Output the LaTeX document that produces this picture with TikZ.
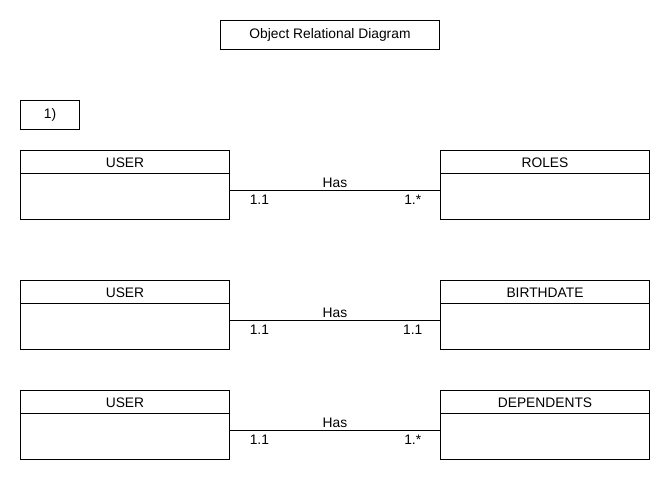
\documentclass[tikz,border=0pt]{standalone}
\usepackage{fontspec}
\setmainfont{Liberation Sans}
\usetikzlibrary{calc}
\begin{document}
\begin{tikzpicture}[x=1pt,y=-1pt,
  every node/.style={font=\fontsize{13.8}{15}\selectfont},
  box/.style={draw,line width=1pt,inner sep=0pt,anchor=north west},
  cls/.style={box,minimum width=209,minimum height=69},
  link/.style={draw,line width=1pt},
  lbl/.style={inner sep=2pt},
  mult/.style={lbl,below,yshift=-2.5pt}]
\useasboundingbox (0,0) rectangle (670,480);
\node[box,minimum width=219,minimum height=29] (title) at (220,20) {Object Relational Diagram};
\node[box,minimum width=59,minimum height=29] (num) at (20,100) {1)};
\foreach \n/\y/\t in {1/150/ROLES,2/280/BIRTHDATE,3/390/DEPENDENTS}{
  \node[cls] (u\n) at (20,\y) {};
  \node[cls] (r\n) at (440,\y) {};
  \draw[line width=1pt] ([yshift=-23]u\n.north west) -- ([yshift=-23]u\n.north east);
  \draw[line width=1pt] ([yshift=-23]r\n.north west) -- ([yshift=-23]r\n.north east);
  \node at ($(u\n.north)+(0,12.5)$) {USER};
  \node at ($(r\n.north)+(0,12.5)$) {\t};
  \coordinate (a\n) at ([yshift=-40]u\n.north east);
  \coordinate (b\n) at ([yshift=-40]r\n.north west);
}
\path[link] (a1) -- node[lbl,above] (h1) {Has} node[mult,pos=0.14] (m1) {1.1} node[mult,pos=0.87] (n1) {1.*} (b1);
\path[link] (a2) -- node[lbl,above] (h2) {Has} node[mult,pos=0.14] (m2) {1.1} node[mult,pos=0.87] (n2) {1.1} (b2);
\path[link] (a3) -- node[lbl,above] (h3) {Has} node[mult,pos=0.14] (m3) {1.1} node[mult,pos=0.87] (n3) {1.*} (b3);
\end{tikzpicture}
\end{document}
